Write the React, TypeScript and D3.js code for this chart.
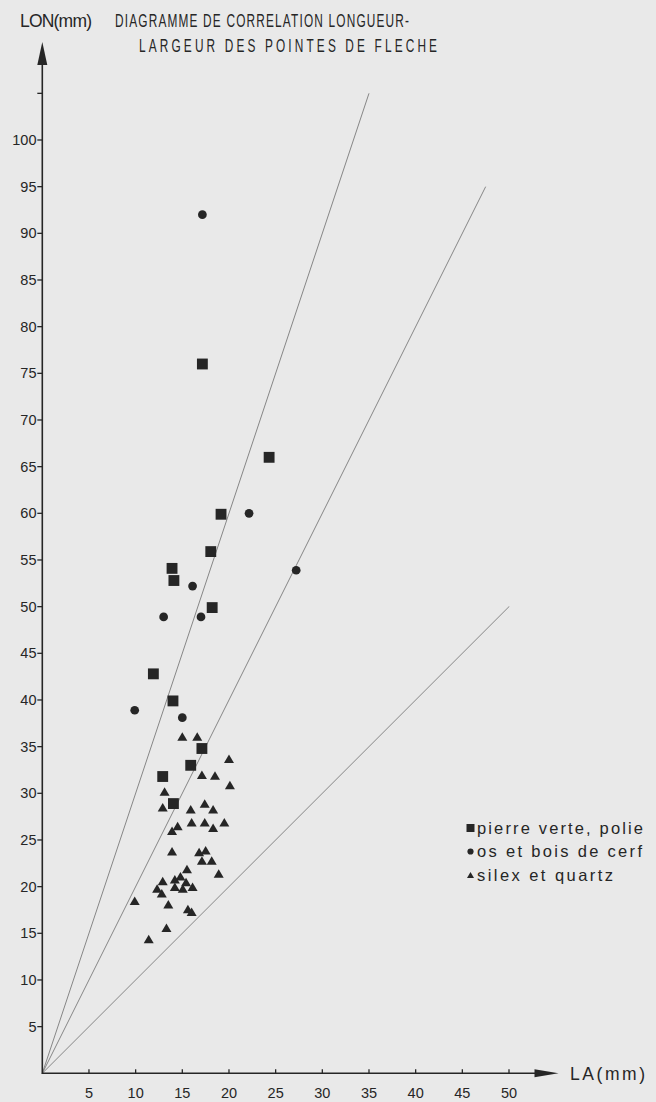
import React from "react";
import * as d3 from "d3";

const W = 656;
const H = 1102;

// Pointes de flèche : largeur (LA) et longueur (LON) en mm
const pierreVerte = [
  { la: 17.15, lon: 76 }, { la: 24.3, lon: 66 }, { la: 19.15, lon: 59.9 },
  { la: 18.05, lon: 55.9 }, { la: 13.9, lon: 54.1 }, { la: 14.1, lon: 52.8 },
  { la: 18.2, lon: 49.9 }, { la: 11.9, lon: 42.8 }, { la: 14.0, lon: 39.9 },
  { la: 17.1, lon: 34.8 }, { la: 15.9, lon: 33.0 }, { la: 12.9, lon: 31.8 },
  { la: 14.05, lon: 28.9 },
];

const osBoisCerf = [
  { la: 17.15, lon: 92 }, { la: 22.15, lon: 60 }, { la: 16.1, lon: 52.2 },
  { la: 27.2, lon: 53.9 }, { la: 13.0, lon: 48.9 }, { la: 17.0, lon: 48.9 },
  { la: 9.9, lon: 38.9 }, { la: 15.0, lon: 38.1 },
];

const silexQuartz = [
  { la: 15.0, lon: 36.1 }, { la: 16.6, lon: 36.1 }, { la: 20.0, lon: 33.7 },
  { la: 17.1, lon: 32.0 }, { la: 18.5, lon: 31.9 }, { la: 20.1, lon: 30.9 },
  { la: 13.1, lon: 30.2 }, { la: 12.9, lon: 28.5 }, { la: 15.9, lon: 28.3 },
  { la: 17.4, lon: 28.9 }, { la: 18.3, lon: 28.3 }, { la: 14.5, lon: 26.5 },
  { la: 13.9, lon: 26.0 }, { la: 16.0, lon: 26.9 }, { la: 17.4, lon: 26.9 },
  { la: 18.3, lon: 26.3 }, { la: 19.5, lon: 26.9 }, { la: 13.9, lon: 23.8 },
  { la: 16.8, lon: 23.7 }, { la: 17.5, lon: 23.9 }, { la: 17.1, lon: 22.8 },
  { la: 18.15, lon: 22.8 }, { la: 15.5, lon: 21.9 }, { la: 18.9, lon: 21.4 },
  { la: 12.9, lon: 20.6 }, { la: 14.2, lon: 20.8 }, { la: 14.8, lon: 21.1 },
  { la: 15.4, lon: 20.5 }, { la: 14.2, lon: 20.0 }, { la: 15.05, lon: 19.8 },
  { la: 16.1, lon: 20.0 }, { la: 12.3, lon: 19.8 }, { la: 12.8, lon: 19.3 },
  { la: 9.9, lon: 18.5 }, { la: 13.5, lon: 18.1 }, { la: 15.6, lon: 17.6 },
  { la: 16.0, lon: 17.3 }, { la: 13.3, lon: 15.6 }, { la: 11.4, lon: 14.4 },
];

// Droites d'allongement LON = k · LA, tracées depuis l'origine
const ratioLines = [
  { k: 3, laMax: 35 },
  { k: 2, laMax: 47.5 },
  { k: 1, laMax: 50 },
];

const xTicks = [5, 10, 15, 20, 25, 30, 35, 40, 45, 50];
const yTicks = [5, 10, 15, 20, 25, 30, 35, 40, 45, 50, 55, 60, 65, 70, 75, 80, 85, 90, 95, 100];
const yBlankTick = 105;

const legendItems = [
  { shape: "square", label: "pierre verte, polie", width: 166 },
  { shape: "circle", label: "os et bois de cerf", width: 165 },
  { shape: "triangle", label: "silex et quartz", width: 136 },
];

const titleLines = [
  { text: "DIAGRAMME DE CORRELATION LONGUEUR-", x: 115, y: 27, width: 294 },
  { text: "LARGEUR DES POINTES DE FLECHE", x: 139, y: 52, width: 298 },
];

const INK = "#262626";
const FONT = "'Liberation Sans', Arial, Helvetica, sans-serif";
const TITLE_SQUEEZE = 0.64;

function trianglePath(w: number, h: number): string {
  const p = d3.path();
  p.moveTo(0, -h / 2);
  p.lineTo(w / 2, h / 2);
  p.lineTo(-w / 2, h / 2);
  p.closePath();
  return p.toString();
}

export default function App() {
  const x = d3.scaleLinear().domain([0, 50]).range([42.3, 509]);
  const y = d3.scaleLinear().domain([0, 100]).range([1073.3, 140]);

  const x0 = x(0);
  const y0 = y(0);
  const xArrowTip = x(55.3);
  const yArrowTip = y(110.5);

  const squarePath = d3.symbol(d3.symbolSquare, 118)()!;
  const circlePath = d3.symbol(d3.symbolCircle, 60)()!;
  const triPath = trianglePath(10, 8.5);

  const legSquare = d3.symbol(d3.symbolSquare, 64)()!;
  const legCircle = d3.symbol(d3.symbolCircle, 30)()!;
  const legTri = trianglePath(7, 6);

  return (
    <svg
      width={W}
      height={H}
      viewBox={`0 0 ${W} ${H}`}
      style={{ position: "absolute", left: 0, top: 0, display: "block" }}
      fontFamily={FONT}
    >
      <rect x={0} y={0} width={W} height={H} fill="#e9e9e9" />

      {/* titre : capitales étroites, largement espacées */}
      <text x={20} y={27} fontSize={17.5} fill={INK} textLength={72} lengthAdjust="spacing">
        LON(mm)
      </text>
      {titleLines.map((t) => (
        <text
          key={t.text}
          transform={`translate(${t.x},${t.y}) scale(${TITLE_SQUEEZE},1)`}
          fontSize={18.5}
          fill={INK}
          textLength={t.width / TITLE_SQUEEZE}
          lengthAdjust="spacing"
        >
          {t.text}
        </text>
      ))}

      {/* droites de rapport */}
      {ratioLines.map((r) => (
        <path
          key={r.k}
          d={
            d3
              .line<number>()
              .x((la) => x(la))
              .y((la) => y(la * r.k))([0, r.laMax]) as string
          }
          stroke="#7a7a7a"
          strokeWidth={0.9}
          fill="none"
        />
      ))}

      {/* axes */}
      <line x1={x0} y1={y0} x2={xArrowTip - 18} y2={y0} stroke={INK} strokeWidth={1.6} />
      <path
        d={`M${xArrowTip},${y0} L${xArrowTip - 24},${y0 - 4} L${xArrowTip - 24},${y0 + 4} Z`}
        fill={INK}
      />
      <line x1={x0} y1={y0 + 0.8} x2={x0} y2={yArrowTip + 18} stroke={INK} strokeWidth={1.6} />
      <path
        d={`M${x0},${yArrowTip} L${x0 - 5},${yArrowTip + 23} L${x0 + 5},${yArrowTip + 23} Z`}
        fill={INK}
      />

      {xTicks.map((v) => (
        <g key={`x${v}`}>
          <line x1={x(v)} x2={x(v)} y1={y0} y2={y0 - 4} stroke={INK} strokeWidth={1.3} />
          <text x={x(v)} y={1098} fontSize={14.5} fill={INK} textAnchor="middle">
            {v}
          </text>
        </g>
      ))}
      {yTicks.map((v) => (
        <g key={`y${v}`}>
          <line x1={x0 - 5} x2={x0} y1={y(v)} y2={y(v)} stroke={INK} strokeWidth={1.3} />
          <text x={36.5} y={y(v) + 5} fontSize={14.5} fill={INK} textAnchor="end">
            {v}
          </text>
        </g>
      ))}
      <line
        x1={x0 - 5}
        x2={x0}
        y1={y(yBlankTick)}
        y2={y(yBlankTick)}
        stroke={INK}
        strokeWidth={1.3}
      />

      <text x={570} y={1080} fontSize={17.5} fill={INK} textLength={75} lengthAdjust="spacing">
        LA(mm)
      </text>

      {/* points */}
      {pierreVerte.map((d, i) => (
        <path key={`p${i}`} d={squarePath} transform={`translate(${x(d.la)},${y(d.lon)})`} fill={INK} />
      ))}
      {osBoisCerf.map((d, i) => (
        <path key={`o${i}`} d={circlePath} transform={`translate(${x(d.la)},${y(d.lon)})`} fill={INK} />
      ))}
      {silexQuartz.map((d, i) => (
        <path key={`s${i}`} d={triPath} transform={`translate(${x(d.la)},${y(d.lon)})`} fill={INK} />
      ))}

      {/* légende */}
      {legendItems.map((item, i) => {
        const cy = 828 + i * 23.5;
        const d = item.shape === "square" ? legSquare : item.shape === "circle" ? legCircle : legTri;
        return (
          <g key={item.label}>
            <path d={d} transform={`translate(470.5,${cy})`} fill={INK} />
            <text
              x={477}
              y={cy + 5.5}
              fontSize={16.5}
              fill={INK}
              textLength={item.width}
              lengthAdjust="spacing"
            >
              {item.label}
            </text>
          </g>
        );
      })}
    </svg>
  );
}
